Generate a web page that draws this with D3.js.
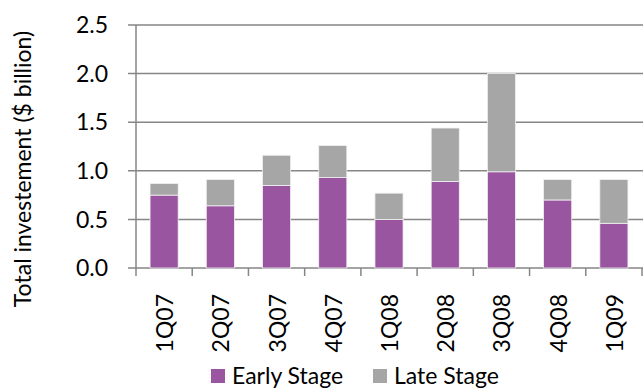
<!DOCTYPE html>
<html>
<head>
<meta charset="utf-8">
<script src="https://cdn.jsdelivr.net/npm/d3@7"></script>
<style>
  body { margin: 0; background: #fff; }
  text { font-family: Lato, "Open Sans", sans-serif; fill: #000; }
</style>
</head>
<body>
<div id="chart"></div>
<script>
const quarters = ["1Q07", "2Q07", "3Q07", "4Q07", "1Q08", "2Q08", "3Q08", "4Q08", "1Q09"];
const earlyStage = [0.75, 0.64, 0.85, 0.93, 0.50, 0.89, 0.99, 0.70, 0.46];
const lateStage = [0.12, 0.27, 0.31, 0.33, 0.27, 0.55, 1.01, 0.21, 0.45];
const yTicks = [0, 0.5, 1.0, 1.5, 2.0, 2.5];
const seriesNames = ["Early Stage", "Late Stage"];
const colors = ["#9955a0", "#a6a6a6"];

const width = 643, height = 389;
const margin = { top: 25, right: 1, bottom: 121, left: 136 };
const fontSize = "23px";

const svg = d3.select("#chart").append("svg")
    .attr("width", width)
    .attr("height", height);

const x = d3.scaleBand()
    .domain(quarters)
    .range([margin.left, width - margin.right])
    .paddingInner(0.5)
    .paddingOuter(0.25);

const y = d3.scaleLinear()
    .domain([0, 2.5])
    .range([height - margin.bottom, margin.top]);

// gridlines
svg.append("g")
    .selectAll("line")
    .data(yTicks)
    .enter()
    .append("line")
    .attr("x1", margin.left - 8)
    .attr("x2", width)
    .attr("y1", d => y(d))
    .attr("y2", d => y(d))
    .attr("stroke", "#868686")
    .attr("stroke-width", 1.5);

// y tick labels
svg.append("g")
    .selectAll("text")
    .data(yTicks)
    .enter()
    .append("text")
    .attr("x", margin.left - 28)
    .attr("y", d => y(d))
    .attr("dy", "0.36em")
    .style("text-anchor", "end")
    .style("font-size", fontSize)
    .text(d => d.toFixed(1));

// y axis title
svg.append("text")
    .attr("transform", "translate(31,169) rotate(-90)")
    .style("text-anchor", "middle")
    .style("font-size", fontSize)
    .text("Total investement ($ billion)");

// stacked bars
const rows = quarters.map((q, i) => ({ q: q, early: earlyStage[i], late: lateStage[i] }));
const stack = d3.stack().keys(["early", "late"])(rows);

svg.append("g")
    .selectAll("g")
    .data(stack)
    .enter()
    .append("g")
    .attr("fill", (d, i) => colors[i])
    .selectAll("rect")
    .data(d => d)
    .enter()
    .append("rect")
    .attr("x", d => x(d.data.q))
    .attr("width", x.bandwidth())
    .attr("y", d => y(d[1]))
    .attr("height", d => y(d[0]) - y(d[1]))
    .attr("stroke", "#f2f2f2")
    .attr("stroke-width", 0.8);

// axes lines
const step = x.step();
const boundaries = d3.range(quarters.length + 1).map(i => margin.left + i * step);

svg.append("line")
    .attr("x1", margin.left)
    .attr("x2", margin.left)
    .attr("y1", y(2.5))
    .attr("y2", y(0))
    .attr("stroke", "#868686")
    .attr("stroke-width", 1.5);

svg.append("g")
    .selectAll("line")
    .data(boundaries)
    .enter()
    .append("line")
    .attr("x1", d => d)
    .attr("x2", d => d)
    .attr("y1", y(0))
    .attr("y2", y(0) + 8)
    .attr("stroke", "#868686")
    .attr("stroke-width", 1.5);

// x labels
svg.append("g")
    .selectAll("text")
    .data(quarters)
    .enter()
    .append("text")
    .attr("transform", d => "translate(" + (x(d) + x.bandwidth() / 2 + 9) + "," + (y(0) + 26) + ") rotate(-90)")
    .style("text-anchor", "end")
    .style("font-size", fontSize)
    .text(d => d);

// legend
const legendX = [211, 373];
const legend = svg.append("g")
    .selectAll("g")
    .data(seriesNames)
    .enter()
    .append("g")
    .attr("transform", (d, i) => "translate(" + legendX[i] + ",369)");

legend.append("rect")
    .attr("width", 14)
    .attr("height", 14)
    .attr("fill", (d, i) => colors[i]);

legend.append("text")
    .attr("x", 21)
    .attr("y", 15)
    .style("font-size", fontSize)
    .text(d => d);
</script>
</body>
</html>
